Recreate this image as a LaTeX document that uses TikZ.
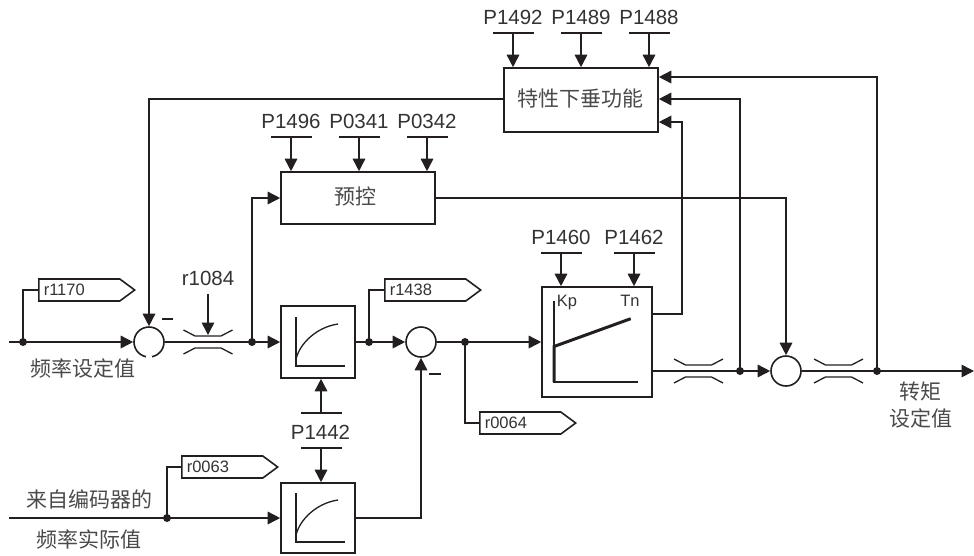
\documentclass[tikz,border=0pt]{standalone}
\usepackage{fontspec}
\setmainfont{Liberation Sans}
\newfontfamily\cjk{Noto Sans CJK SC}
\usetikzlibrary{arrows.meta,shapes.symbols}
\definecolor{ink}{HTML}{231F20}
\definecolor{txt}{HTML}{333333}
\definecolor{cntxt}{HTML}{4A4A4A}
\tikzset{
  base/.style={x=1pt,y=-1pt,line width=1.6pt,draw=ink,line join=miter},
  conn/.style={draw=ink,line width=1.6pt},
  arr/.style={conn,-{Triangle[length=12.5pt,width=12.5pt,fill=ink]}},
  blockbox/.style={draw=ink,line width=1.6pt,rectangle,inner sep=0pt,fill=white},
  sumc/.style={draw=ink,line width=1.6pt,circle,minimum size=30pt,inner sep=0pt},
  jdot/.style={circle,fill=ink,minimum size=8pt,inner sep=0pt},
  barline/.style={rectangle,fill=ink,minimum width=41pt,minimum height=2pt,inner sep=0pt},
  ptext/.style={text=txt,font=\fontsize{20.5}{22}\selectfont,inner sep=0pt},
  cntext/.style={text=cntxt,font=\cjk\fontsize{21}{23}\selectfont,inner sep=0pt},
  tagbox/.style={signal,signal to=east,signal pointer angle=73,draw=ink,line width=1.6pt,
    minimum height=22pt,text width=81pt,inner sep=0pt,anchor=west,text=txt,align=left,
    font=\fontsize{16.5}{18}\selectfont},
  curve/.pic={
    \draw[ink,line width=1.3pt] (-25,-25) -- (-25,24) -- (24,24);
    \draw[ink,line width=1.3pt] (-25,17) .. controls (-21,1) and (-4,-15) .. (17,-18);
  },
  restrict/.pic={
    \draw[ink,line width=1.3pt] (-24.5,-12) -- (-13,-6) -- (13,-6) -- (24.5,-12);
    \draw[ink,line width=1.3pt] (-24.5,12) -- (-13,6) -- (13,6) -- (24.5,12);
  }
}
\begin{document}
\begin{tikzpicture}[base]
\useasboundingbox (0,0) rectangle (974,555);
% blocks
\node[blockbox,minimum width=154pt,minimum height=64pt] (droop) at (581,100) {};
\node[cntext] (droopt) at (580,99) {特性下垂功能};
\node[blockbox,minimum width=154pt,minimum height=52pt] (pre) at (358,198) {};
\node[cntext] (pret) at (355.7,196) {预控};
\node[blockbox,minimum width=74pt,minimum height=72pt] (f1) at (318,342) {};
\node[blockbox,minimum width=74pt,minimum height=70pt] (f2) at (318,518) {};
\node[blockbox,minimum width=110pt,minimum height=110pt] (pi) at (597,342) {};
\node[sumc] (s1) at (149,342) {};
\node[sumc] (s2) at (421,342) {};
\node[sumc] (s3) at (786,371) {};
\draw[white,line width=2.8pt] (146,357.5) -- (152,357.5);
\pic at (321,342) {curve};
\pic at (321,518) {curve};
\pic at (208,342) {restrict};
\pic at (698.5,371) {restrict};
\pic at (838.5,371) {restrict};
% parameter bars and texts
\foreach \n/\t/\x/\y in {a/P1492/513/33,b/P1489/581/33,c/P1488/649/33,d/P1496/291/137,e/P0341/359/137,f/P0342/427/137,g/P1460/561/253,h/P1462/634/253}{
  \node[barline] (bar\n) at (\x,\y) {};
  \node[ptext,anchor=base] (txt\n) at (\x,\y-9) {\t};
}
\node[ptext] (txti) at (320.5,432) {P1442};
\node[barline] (bari) at (321,413) {};
\node[barline] (barj) at (321,448) {};
\node[ptext] (txtr) at (208,278) {r1084};
\node[ptext,font=\fontsize{16.5}{18}\selectfont,anchor=base] (kp) at (567,306.5) {Kp};
\node[ptext,font=\fontsize{16.5}{18}\selectfont,anchor=base] (tn) at (630,306.5) {Tn};
\foreach \n in {a,b,c}{\draw[arr] (bar\n.center) -- (bar\n |- droop.north);}
\foreach \n in {d,e,f}{\draw[arr] (bar\n.center) -- (bar\n |- pre.north);}
\foreach \n in {g,h}{\draw[arr] (bar\n.center) -- (bar\n |- pi.north);}
\draw[arr] (bari.center) -- (bari |- f1.south);
\draw[arr] (barj.center) -- (barj |- f2.north);
% PI chart
\draw[ink,line width=1.3pt] (554,301) -- (554,382) -- (638,382);
\draw[ink,line width=3pt] (554,382) -- (554,346.5) -- (630.7,318.7);
% junctions
\node[jdot] (j1) at (23,342) {};
\node[jdot] (j2) at (252,342) {};
\node[jdot] (j3) at (369,342) {};
\node[jdot] (j4) at (465,342) {};
\node[jdot] (j5) at (740,371) {};
\node[jdot] (j6) at (877,371) {};
\node[jdot] (j7) at (167,518) {};
\coordinate (in1) at (9,342);
\coordinate (in2) at (9,518);
\coordinate (out) at (974,371);
\coordinate (rarrow) at (208,294);
\coordinate (rtip) at (208,335);
% tags
\node[tagbox] (t1) at (38,290) {\hspace*{5pt}r1170};
\node[tagbox] (t2) at (384,290) {\hspace*{5pt}r1438};
\node[tagbox] (t3) at (479,423) {\hspace*{5pt}r0064};
\node[tagbox] (t4) at (181,467) {\hspace*{5pt}r0063};
% connectors
\draw[arr] (in1) -- (s1.west);
\draw[conn] (j1.center) |- (t1.west);
\draw[arr] (droop.west |- 0,99) -| (s1.north);
\draw[arr] (s1.east) -- (f1.west);
\draw[arr] (rarrow) -- (rtip);
\draw[arr] (j2.center) |- (pre.west);
\draw[arr] (f1.east) -- (s2.west);
\draw[conn] (j3.center) |- (t2.west);
\draw[arr] (s2.east) -- (pi.west);
\draw[conn] (j4.center) |- (t3.west);
\draw[arr] (in2) -- (f2.west);
\draw[conn] (j7.center) |- (t4.west);
\draw[arr] (f2.east) -| (s2.south);
\draw[arr] (pi.east |- 0,371) -- (s3.west);
\draw[arr] (s3.east) -- (out);
\draw[arr] (pi.east |- 0,314) -| (682,122) -- (droop.east |- 0,122);
\draw[arr] (j5.center) |- (droop.east |- 0,99);
\draw[arr] (j6.center) |- (droop.east |- 0,77);
\draw[arr] (pre.east) -| (s3.north);
% minus signs
\node[rectangle,fill=ink,minimum width=11.5pt,minimum height=1.6pt,inner sep=0pt] (m1) at (167.5,319) {};
\node[rectangle,fill=ink,minimum width=12pt,minimum height=1.6pt,inner sep=0pt] (m2) at (435,374) {};
% labels
\node[cntext] (l1) at (82.5,368) {频率设定值};
\node[cntext] (l2) at (89,499) {来自编码器的};
\node[cntext] (l3) at (89,539) {频率实际值};
\node[cntext] (l4) at (920.5,392) {转矩};
\node[cntext] (l5) at (920.5,418) {设定值};
\end{tikzpicture}
\end{document}
